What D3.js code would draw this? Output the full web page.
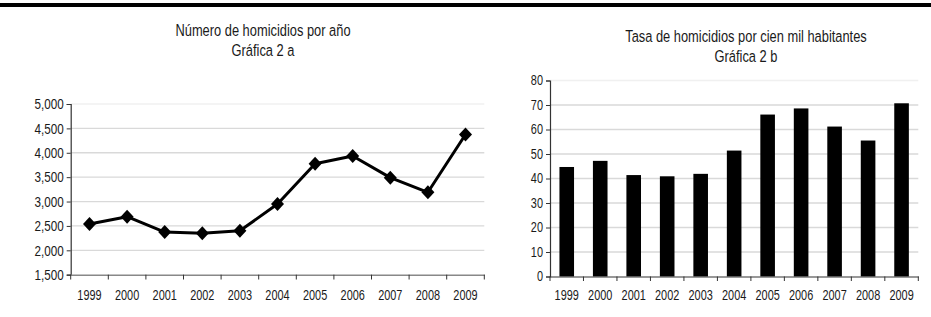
<!DOCTYPE html>
<html><head><meta charset="utf-8">
<script src="https://cdn.jsdelivr.net/npm/d3@7"></script>
<style>
html,body{margin:0;padding:0;background:#fff;}
svg{display:block;}
text{font-family:"Liberation Sans Narrow","Liberation Sans",Arial,sans-serif;fill:#1a1a1a;}
</style></head>
<body>
<script>
const years = ["1999","2000","2001","2002","2003","2004","2005","2006","2007","2008","2009"];
const homicides = [2540,2690,2375,2350,2400,2950,3775,3935,3490,3190,4375];
const rate = [44.7,47.2,41.4,40.9,41.9,51.4,66.1,68.6,61.2,55.5,70.7];
const leftTicks = [1500,2000,2500,3000,3500,4000,4500,5000];
const rightTicks = [0,10,20,30,40,50,60,70,80];
const leftTitle = ["Número de homicidios por año","Gráfica 2 a"];
const rightTitle = ["Tasa de homicidios por cien mil habitantes","Gráfica 2 b"];

const W=931,H=317;
const K=0.78; // horizontal condensing of text
const svg=d3.select("body").append("svg").attr("width",W).attr("height",H);

function narrow(sel){
  sel.each(function(){
    const t=d3.select(this);
    const x=+(t.attr("x")||0);
    t.attr("x",x/K).attr("transform",`scale(${K},1)`);
  });
}

svg.append("rect").attr("x",0).attr("y",3).attr("width",W).attr("height",4).attr("fill","#000");

const fmt=d3.format(",");
const FS=14;

// ---------- Left chart ----------
const lx=d3.scaleBand().domain(years).range([70.7,484.3]);
const ly=d3.scaleLinear().domain([1500,5000]).range([274.7,104]);
const L=svg.append("g");
L.append("g").selectAll("line").data(leftTicks.slice(1)).join("line")
 .attr("x1",70.7).attr("x2",484.3).attr("y1",d=>ly(d)).attr("y2",d=>ly(d))
 .attr("stroke",d=>d===5000?"#f0f0f0":"#d9d9d9").attr("stroke-width",1.3);
const lya=L.append("g").attr("transform","translate(70.7,0)")
 .call(d3.axisLeft(ly).tickValues(leftTicks).tickFormat(fmt).tickSize(4).tickPadding(3));
lya.select(".domain").attr("stroke","#333").attr("stroke-width",1.2);
lya.selectAll(".tick line").attr("stroke","#333");
lya.selectAll("text").attr("font-size",15).style("fill","#1a1a1a").call(narrow);
const lxa=L.append("g").attr("transform","translate(0,274.7)")
 .call(d3.axisBottom(lx).tickSize(0).tickPadding(15));
lxa.select(".domain").attr("stroke","#888").attr("stroke-width",1.5);
lxa.selectAll("text").attr("font-size",FS).style("fill","#1a1a1a").call(narrow);
L.append("g").selectAll("line").data(d3.range(years.length+1)).join("line")
 .attr("x1",i=>70.7+i*lx.step()).attr("x2",i=>70.7+i*lx.step())
 .attr("y1",274.7).attr("y2",279.5).attr("stroke","#333");
const line=d3.line().x((d,i)=>lx(years[i])+lx.bandwidth()/2).y(d=>ly(d));
L.append("path").datum(homicides).attr("d",line).attr("fill","none")
 .attr("stroke","#000").attr("stroke-width",3).attr("stroke-linejoin","round");
L.append("g").selectAll("path").data(homicides).join("path")
 .attr("transform",(d,i)=>`translate(${lx(years[i])+lx.bandwidth()/2},${ly(d)})`)
 .attr("d","M0,-7L6.5,0L0,7L-6.5,0Z").attr("fill","#000");
L.append("g").selectAll("text").data(leftTitle).join("text")
 .attr("x",263).attr("y",(d,i)=>36+i*20).attr("text-anchor","middle")
 .attr("font-size",16.5).text(d=>d).call(narrow);

// ---------- Right chart ----------
const rxb=d3.scaleBand().domain(years).range([550,918.3]);
const ry=d3.scaleLinear().domain([0,80]).range([276.5,80.5]);
const R=svg.append("g");
R.append("g").selectAll("line").data(rightTicks.slice(1)).join("line")
 .attr("x1",550).attr("x2",918.3).attr("y1",d=>ry(d)).attr("y2",d=>ry(d))
 .attr("stroke",d=>d===80?"#f0f0f0":"#d9d9d9").attr("stroke-width",1.3);
R.append("g").selectAll("rect").data(rate).join("rect")
 .attr("x",(d,i)=>rxb(years[i])+rxb.bandwidth()/2-7.3).attr("width",14.6)
 .attr("y",d=>ry(d)).attr("height",d=>ry(0)-ry(d)).attr("fill","#000");
const rya=R.append("g").attr("transform","translate(550,0)")
 .call(d3.axisLeft(ry).tickValues(rightTicks).tickSize(4).tickPadding(3));
rya.select(".domain").attr("stroke","#333").attr("stroke-width",1.2);
rya.selectAll(".tick line").attr("stroke","#333");
rya.selectAll("text").attr("font-size",FS).style("fill","#1a1a1a").call(narrow);
const rxa=R.append("g").attr("transform","translate(0,276.5)")
 .call(d3.axisBottom(rxb).tickSize(0).tickPadding(14));
rxa.select(".domain").attr("stroke","#333").attr("stroke-width",1.2);
rxa.selectAll("text").attr("font-size",FS).style("fill","#1a1a1a").call(narrow);
R.append("g").selectAll("line").data(d3.range(years.length+1)).join("line")
 .attr("x1",i=>550+i*rxb.step()).attr("x2",i=>550+i*rxb.step())
 .attr("y1",276.5).attr("y2",281).attr("stroke","#333");
R.append("g").selectAll("text").data(rightTitle).join("text")
 .attr("x",746).attr("y",(d,i)=>42+i*20).attr("text-anchor","middle")
 .attr("font-size",16.5).text(d=>d).call(narrow);
</script>
</body></html>
